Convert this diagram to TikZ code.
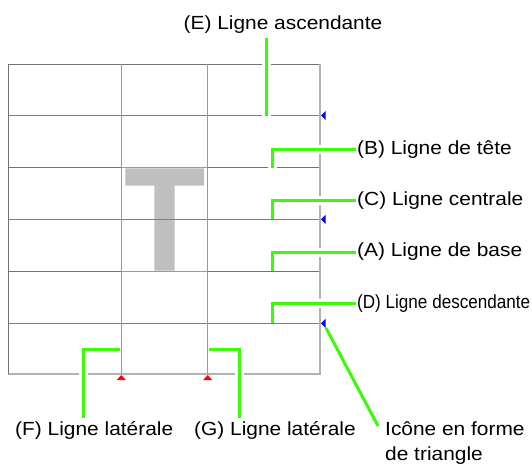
\documentclass[tikz,border=0pt]{standalone}
\usepackage{fontspec}
\setmainfont{Liberation Sans}[FakeStretch=1.1]
\newfontfamily\narrowfont{Liberation Sans}[FakeStretch=0.9]
\usetikzlibrary{positioning}
\definecolor{leadgreen}{RGB}{60,250,10}
\definecolor{guideblue}{RGB}{110,110,240}
\definecolor{guidered}{RGB}{255,110,110}
\tikzset{
  gray rule/.style={draw=black!55, line width=1pt},
  edge rule/.style={draw=black!30, line width=1.6pt},
  blue rule/.style={draw=guideblue, line width=1pt},
  red rule/.style={draw=guidered, line width=0.8pt},
  glyph/.style={fill=black!25},
  leader/.style={draw=leadgreen, line width=3pt, preaction={draw=white, line width=9pt}},
  label text/.style={inner sep=1pt, font=\fontsize{19}{25}\selectfont},
  narrow text/.style={inner sep=1pt, font=\narrowfont\fontsize{19}{25}\selectfont},
}

\begin{document}
\begin{tikzpicture}[x=1pt,y=-1pt]
  \useasboundingbox (0,0) rectangle (532,464);

  % letter T inside its box
  \fill[glyph] (125.3,168.3) rectangle (204,185.7) (154.3,185.7) rectangle (174.7,270.7);

  % guide lines
  \foreach \y in {64,167.7,271} \draw[gray rule] (8,\y) -- (320,\y);
  \foreach \y in {115.5,219.3,323.3} \draw[blue rule] (8,\y) -- (320,\y);
  \draw[edge rule] (8,374) -- (320,374) -- (320,64);
  \draw[gray rule] (8,64) -- (8,374);
  \foreach \x in {121.3,207.7} \draw[red rule] (\x,64) -- (\x,374);
  \foreach \y in {167.7,271} \draw[red rule] (121.3,\y) -- (207.7,\y);

  % points the leaders start from
  \coordinate (ascE) at (266,115.5);
  \coordinate (topB) at (272,167.7);
  \coordinate (midC) at (272,219.3);
  \coordinate (baseA) at (272,271);
  \coordinate (descD) at (272,323.3);
  \coordinate (latF) at (120,349);
  \coordinate (latG) at (209,349);
  \coordinate (triD) at (326,328);
  \coordinate (footF) at (83.3,418);
  \coordinate (footG) at (239,418);
  \coordinate (footIcon) at (378,426);

  % labels
  \node[label text, anchor=base] (labE) at (283,29) {(E) Ligne ascendante};
  \node[label text, anchor=west] (labB) at (356,149.3) {(B) Ligne de tête};
  \node[label text, anchor=west] (labC) at (356,200.3) {(C) Ligne centrale};
  \node[label text, anchor=west] (labA) at (356,252) {(A) Ligne de base};
  \node[narrow text, anchor=west] (labD) at (356,303.3) {(D) Ligne descendante};
  \node[label text, anchor=base west] (labF) at (14,435) {(F) Ligne latérale};
  \node[label text, anchor=base west] (labG) at (193,435) {(G) Ligne latérale};
  \node[label text, anchor=base west, align=left] (labIcon) at (384,460) {Icône en forme\\de triangle};

  % leaders
  \draw[leader, shorten >=4pt] (ascE) -- (ascE |- labE.south);
  \draw[leader] (topB) |- (labB.west);
  \draw[leader] (midC) |- (labC.west);
  \draw[leader] (baseA) |- (labA.west);
  \draw[leader] (descD) |- (labD.west);
  \draw[leader] (latF) -| (footF);
  \draw[leader] (latG) -| (footG);
  \draw[leader] (triD) -- (footIcon);

  % triangle icons
  \foreach \y in {115.5,219.3,323.3} \fill[blue] (321,\y) -- (325.5,\y-4.5) -- (325.5,\y+4.5) -- cycle;
  \foreach \x in {121.3,207.7} \fill[red] (\x,375) -- (\x+4.5,380) -- (\x-4.5,380) -- cycle;

\end{tikzpicture}
\end{document}
